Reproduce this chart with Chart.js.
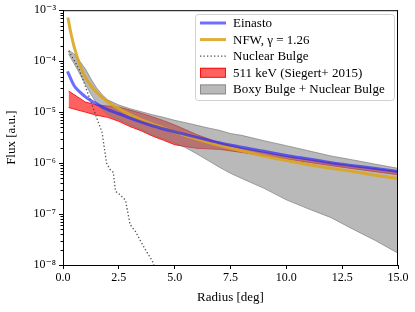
<!DOCTYPE html>
<html>
<head>
<meta charset="utf-8">
<script src="https://cdn.jsdelivr.net/npm/chart.js@4.4.1/dist/chart.umd.min.js"></script>
<style>
  html, body { margin: 0; padding: 0; background: #fff; }
  #wrap { width: 415px; height: 312px; }
</style>
</head>
<body>
<div id="wrap"><canvas id="ctx"></canvas></div>
<script>
// values (radius in deg, flux in a.u.)
const einastoR = [0.2, 0.5, 0.75, 1, 1.5, 2, 2.5, 3, 4, 5, 6, 7, 8, 9, 10, 11, 12, 13, 14, 15];
const einastoFlux = [6.3e-5, 3.3e-5, 2.5e-5, 2.0e-5, 1.45e-5, 1.12e-5, 9.3e-6, 7.6e-6, 5.4e-6, 4.1e-6,
  3.2e-6, 2.5e-6, 2.04e-6, 1.7e-6, 1.41e-6, 1.2e-6, 1.02e-6, 8.9e-7, 7.8e-7, 6.8e-7];

const nfwR = [0.22, 0.35, 0.5, 0.75, 1, 1.25, 1.5, 2, 2.5, 3, 3.5, 4, 5, 6, 7, 8, 9, 10, 11, 12, 13, 14, 15];
const nfwFlux = [7.2e-4, 3.6e-4, 1.9e-4, 8.6e-5, 4.8e-5, 3.3e-5, 2.45e-5, 1.6e-5, 1.17e-5, 8.9e-6, 7.1e-6,
  5.9e-6, 4.1e-6, 2.95e-6, 2.24e-6, 1.74e-6, 1.38e-6, 1.12e-6, 9.3e-7, 7.9e-7, 6.8e-7, 5.75e-7, 5.0e-7];

const nuclearR = [0.25, 0.5, 0.75, 1, 1.25, 1.5, 1.75, 1.95, 2.1, 2.25, 2.35, 2.55, 2.8, 3.0, 3.25, 3.5, 3.75, 4.0, 4.3];
const nuclearFlux = [1.58e-4, 1.05e-4, 6.5e-5, 3.2e-5, 1.6e-5, 7.9e-6, 4.0e-6, 1.0e-6, 7.6e-7, 6.6e-7,
  2.8e-7, 2.4e-7, 1.86e-7, 6.3e-8, 4.5e-8, 2.8e-8, 1.8e-8, 1.2e-8, 5e-9];

const siegertR = [0.25, 1, 1.5, 2, 2.5, 3, 3.5, 4, 4.5, 5, 5.5, 6, 6.5, 7, 8, 10, 12.5, 15];
const siegertHigh = [2.6e-5, 1.58e-5, 1.38e-5, 1.32e-5, 1.26e-5, 1.1e-5, 9.5e-6, 8.1e-6, 6.8e-6, 5.6e-6,
  4.5e-6, 3.6e-6, 3.0e-6, 2.5e-6, 1.95e-6, 1.35e-6, 9.3e-7, 6.8e-7];
const siegertLow = [1.23e-5, 1.0e-5, 8.7e-6, 7.9e-6, 6.6e-6, 5.2e-6, 4.3e-6, 3.4e-6, 2.8e-6, 2.3e-6,
  2.1e-6, 1.95e-6, 1.9e-6, 1.86e-6, 1.62e-6, 1.2e-6, 8.3e-7, 5.9e-7];

const bulgeR = [0.25, 0.5, 0.75, 1, 1.25, 1.5, 1.75, 2, 2.5, 3, 3.5, 4, 4.5, 5, 5.5, 6, 6.5, 7, 7.5, 8, 9, 10, 11, 12, 13, 14, 15];
const bulgeHigh = [1.66e-4, 1.38e-4, 1.0e-4, 7.1e-5, 4.5e-5, 3.0e-5, 2.2e-5, 1.74e-5, 1.38e-5, 1.17e-5,
  1.02e-5, 8.9e-6, 7.9e-6, 6.9e-6, 6.2e-6, 5.5e-6, 4.9e-6, 4.4e-6, 3.8e-6, 3.5e-6, 2.75e-6, 2.2e-6,
  1.74e-6, 1.38e-6, 1.15e-6, 9.5e-7, 7.9e-7];
const bulgeLow = [1.38e-4, 8.9e-5, 5.6e-5, 3.55e-5, 2.24e-5, 1.51e-5, 1.12e-5, 8.9e-6, 7.1e-6, 5.6e-6,
  4.5e-6, 3.55e-6, 3.0e-6, 2.5e-6, 2.0e-6, 1.51e-6, 1.12e-6, 8.3e-7, 6.3e-7, 5.0e-7, 3.2e-7, 1.9e-7,
  1.26e-7, 8.5e-8, 5.0e-8, 3.0e-8, 1.7e-8];

const xTicks = [0, 2.5, 5, 7.5, 10, 12.5, 15];
const yExponents = [-8, -7, -6, -5, -4, -3];

const SERIF = "'Liberation Serif', 'DejaVu Serif', serif";
const sup = { '-': '\u207B', '0': '\u2070', '1': '\u00B9', '2': '\u00B2', '3': '\u00B3', '4': '\u2074',
  '5': '\u2075', '6': '\u2076', '7': '\u2077', '8': '\u2078', '9': '\u2079' };

const BLUE = 'rgba(40,40,255,0.68)';
const GOLD = 'rgba(218,165,32,0.9)';
const DOTS = 'rgba(60,60,60,0.9)';
const RED = 'rgba(255,0,0,0.62)';
const RED_EDGE = 'rgba(255,0,0,0.85)';
const GREY = 'rgba(128,128,128,0.55)';
const GREY_EDGE = 'rgba(110,110,110,0.6)';

const pts = (xs, ys) => xs.map((x, i) => ({ x: x, y: ys[i] }));

const legendItems = [
  { label: 'Einasto', type: 'line', color: BLUE, width: 3 },
  { label: 'NFW, \u03B3 = 1.26', type: 'line', color: GOLD, width: 3 },
  { label: 'Nuclear Bulge', type: 'dot', color: DOTS, width: 1.3 },
  { label: '511 keV (Siegert+ 2015)', type: 'patch', color: RED, edge: RED_EDGE },
  { label: 'Boxy Bulge + Nuclear Bulge', type: 'patch', color: GREY, edge: GREY_EDGE }
];

// frame, minor ticks and the boxed legend
const extras = {
  id: 'extras',
  afterDraw(chart) {
    const { ctx, chartArea: a, scales } = chart;
    ctx.save();
    ctx.strokeStyle = '#000';
    ctx.lineWidth = 1;
    ctx.beginPath();
    ctx.moveTo(a.left, a.top + 0.5); ctx.lineTo(a.right, a.top + 0.5);
    ctx.moveTo(a.right - 0.5, a.top); ctx.lineTo(a.right - 0.5, a.bottom);
    ctx.stroke();
    // minor log ticks
    ctx.beginPath();
    for (let e = -8; e < -3; e++) {
      for (let m = 2; m <= 9; m++) {
        const y = Math.round(scales.y.getPixelForValue(m * Math.pow(10, e))) + 0.5;
        ctx.moveTo(a.left - 2.5, y); ctx.lineTo(a.left, y);
      }
    }
    ctx.stroke();

    // legend
    const bx = 195, by = 14, bw = 199, bh = 86;
    ctx.fillStyle = 'rgba(255,255,255,0.85)';
    ctx.strokeStyle = '#d0d0d0';
    ctx.beginPath();
    ctx.roundRect(bx + 0.5, by + 0.5, bw, bh, 3);
    ctx.fill(); ctx.stroke();
    ctx.font = '13px ' + SERIF;
    ctx.textBaseline = 'middle';
    legendItems.forEach((it, i) => {
      const y = by + 9 + i * 16.6;
      const x0 = bx + 5, x1 = bx + 31;
      if (it.type === 'patch') {
        ctx.fillStyle = it.color;
        ctx.fillRect(x0, y - 5, x1 - x0, 10);
        ctx.strokeStyle = it.edge;
        ctx.strokeRect(x0 + 0.5, y - 4.5, x1 - x0 - 1, 9);
      } else {
        ctx.strokeStyle = it.color;
        ctx.lineWidth = it.width;
        ctx.setLineDash(it.type === 'dot' ? [1.3, 2.2] : []);
        ctx.beginPath(); ctx.moveTo(x0, y); ctx.lineTo(x1, y); ctx.stroke();
        ctx.setLineDash([]);
        ctx.lineWidth = 1;
      }
      ctx.fillStyle = '#000';
      ctx.fillText(it.label, bx + 38, y + 0.5);
    });
    ctx.restore();
  }
};

new Chart(document.getElementById('ctx'), {
  type: 'line',
  data: {
    datasets: [
      { label: 'Einasto', data: pts(einastoR, einastoFlux), borderColor: BLUE,
        borderWidth: 3, pointRadius: 0, fill: false, cubicInterpolationMode: 'monotone' },
      { label: 'NFW', data: pts(nfwR, nfwFlux), borderColor: GOLD,
        borderWidth: 3, pointRadius: 0, fill: false, cubicInterpolationMode: 'monotone' },
      { label: 'Nuclear Bulge', data: pts(nuclearR, nuclearFlux), borderColor: DOTS,
        borderWidth: 1.3, borderDash: [1.3, 2.2], pointRadius: 0, fill: false },
      { label: 'Boxy Bulge + Nuclear Bulge', data: pts(bulgeR, bulgeHigh), borderColor: GREY_EDGE,
        borderWidth: 1, pointRadius: 0, fill: '+1', backgroundColor: GREY },
      { label: 'bulge low', data: pts(bulgeR, bulgeLow), borderColor: GREY_EDGE,
        borderWidth: 1, pointRadius: 0, fill: false },
      { label: '511 keV (Siegert+ 2015)', data: pts(siegertR, siegertHigh), borderColor: RED_EDGE,
        borderWidth: 1, pointRadius: 0, fill: '+1', backgroundColor: RED },
      { label: 'siegert low', data: pts(siegertR, siegertLow), borderColor: RED_EDGE,
        borderWidth: 1, pointRadius: 0, fill: false }
    ]
  },
  options: {
    responsive: true,
    maintainAspectRatio: false,
    animation: false,
    layout: { padding: { top: 9, right: 17, left: 0, bottom: 0 } },
    plugins: { legend: { display: false }, tooltip: { enabled: false } },
    scales: {
      x: {
        type: 'linear', min: 0, max: 15,
        afterBuildTicks: (s) => { s.ticks = xTicks.map(v => ({ value: v })); },
        afterFit: (s) => { s.height = 47; },
        ticks: { color: '#000', font: { family: SERIF, size: 12 }, padding: 2, maxRotation: 0,
          callback: (v) => Number(v).toFixed(1) },
        grid: { drawOnChartArea: false, drawTicks: true, tickLength: 4, tickColor: '#000' },
        border: { display: true, color: '#000', width: 1 },
        title: { display: true, text: 'Radius [deg]', color: '#000', font: { family: SERIF, size: 13 },
          padding: { top: 0, bottom: 7 } }
      },
      y: {
        type: 'logarithmic', min: 1e-8, max: 1e-3,
        afterBuildTicks: (s) => { s.ticks = yExponents.map(e => ({ value: Math.pow(10, e) })); },
        afterFit: (s) => { s.width = 63; },
        ticks: { color: '#000', font: { family: SERIF, size: 12 }, padding: 3,
          callback: (v) => '10' + String(Math.round(Math.log10(v))).split('').map(c => sup[c]).join('') },
        grid: { drawOnChartArea: false, drawTicks: true, tickLength: 4, tickColor: '#000' },
        border: { display: true, color: '#000', width: 1 },
        title: { display: true, text: 'Flux [a.u.]', color: '#000', font: { family: SERIF, size: 13 },
          padding: { top: 4, bottom: 0 } }
      }
    }
  },
  plugins: [extras]
});
</script>
</body>
</html>
